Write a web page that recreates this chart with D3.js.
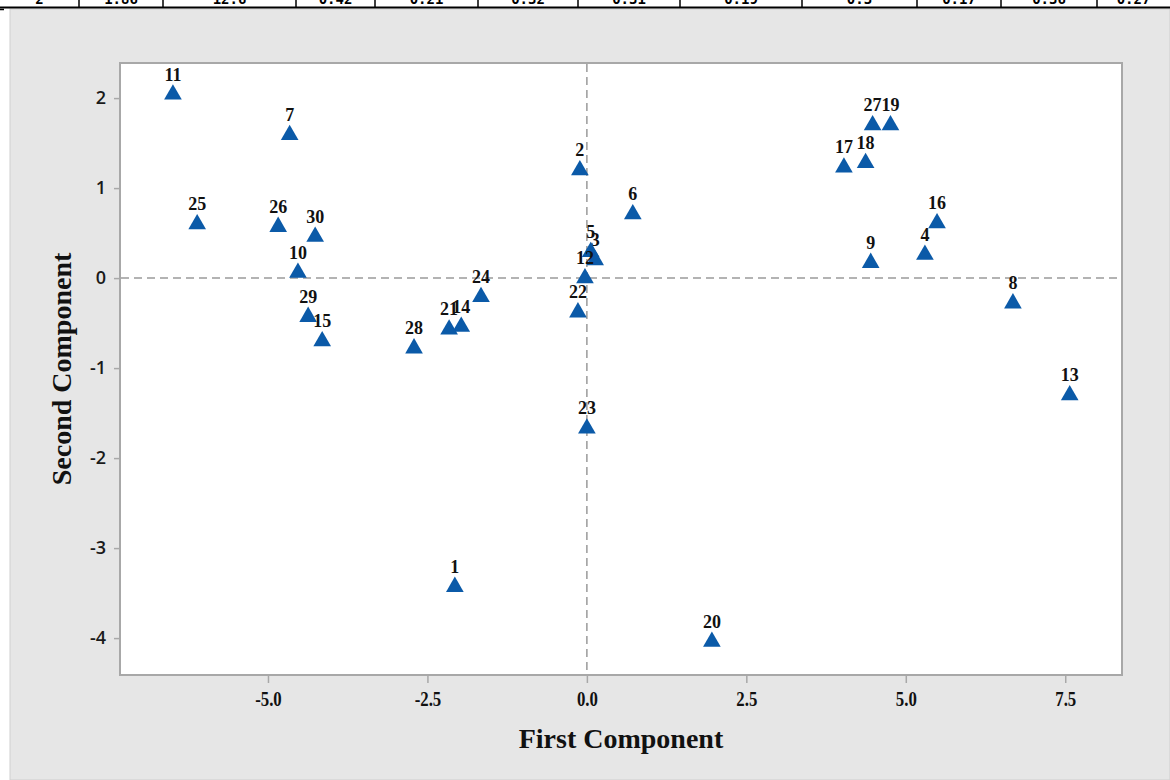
<!DOCTYPE html>
<html>
<head>
<meta charset="utf-8">
<script src="https://cdn.jsdelivr.net/npm/d3@7"></script>
<style>
	body { margin: 0; background: #ffffff; }
	svg { display: block; }
</style>
</head>
<body>
<script>
// 主成分得点 (第1主成分, 第2主成分) と番号
var ids = [1, 2, 3, 4, 5, 6, 7, 8, 9, 10, 11, 12, 13, 14, 15, 16, 17, 18, 19, 20, 21, 22, 23, 24, 25, 26, 27, 28, 29, 30];
var pc1 = [-2.07, -0.11, 0.13, 5.30, 0.06, 0.72, -4.66, 6.68, 4.45, -4.53, -6.49, -0.03, 7.57, -1.97, -4.15,
	5.49, 4.03, 4.37, 4.76, 1.96, -2.16, -0.14, 0.00, -1.66, -6.11, -4.84, 4.48, -2.71, -4.37, -4.26];
var pc2 = [-3.43, 1.20, 0.20, 0.26, 0.29, 0.71, 1.59, -0.28, 0.17, 0.06, 2.04, 0.00, -1.30, -0.54, -0.70,
	0.61, 1.23, 1.28, 1.70, -4.04, -0.57, -0.38, -1.67, -0.21, 0.60, 0.57, 1.70, -0.78, -0.43, 0.46];

// 目盛り
var x_ticks = [-5.0, -2.5, 0.0, 2.5, 5.0, 7.5];
var y_ticks = [-4, -3, -2, -1, 0, 1, 2];

// 上端に切れて残っている表の行
var table_cells = ["2", "1.86", "12.6", "0.42", "0.21", "0.32", "0.31", "0.19", "0.3", "0.17", "0.36", "0.27"];
var table_edges = [0, 79, 163, 296, 375, 478, 578, 680, 802, 917, 1001, 1097, 1170];

var width = 1170, height = 780;
var plot = { left: 120, right: 1122, top: 63, bottom: 675 };

var svg = d3.select("body").append("svg")
	.attr("width", width)
	.attr("height", height);

// 背景(グレーのパネル)
svg.append("rect")
	.attr("x", 10).attr("y", 9)
	.attr("width", width - 10).attr("height", height - 9)
	.attr("fill", "#e6e6e6")
	.attr("stroke", "#cfcfcf")
	.attr("stroke-width", 1);

// 表の行の名残
var tbl = svg.append("g").attr("class", "table_row");
tbl.append("rect")
	.attr("x", 0).attr("y", 0).attr("width", width).attr("height", 7)
	.attr("fill", "#ffffff");
table_edges.slice(1, -1).forEach(function(ex){
	tbl.append("line")
		.attr("x1", ex).attr("x2", ex).attr("y1", 0).attr("y2", 7)
		.attr("stroke", "#000").attr("stroke-width", 1.5);
});
table_cells.forEach(function(t, i){
	tbl.append("text")
		.attr("x", (table_edges[i] + table_edges[i + 1]) / 2)
		.attr("y", 4)
		.attr("text-anchor", "middle")
		.style("font-family", "'DejaVu Sans Mono', monospace")
		.style("font-size", "14px")
		.style("font-weight", "bold")
		.text(t);
});
tbl.append("line")
	.attr("x1", 0).attr("x2", width).attr("y1", 7.5).attr("y2", 7.5)
	.attr("stroke", "#000").attr("stroke-width", 2);
tbl.append("line")
	.attr("x1", 0).attr("x2", 4).attr("y1", 9.5).attr("y2", 9.5)
	.attr("stroke", "#000").attr("stroke-width", 1.5);

// スケール
var x = d3.scaleLinear().domain([-7.32, 8.39]).range([plot.left, plot.right]);
var y = d3.scaleLinear().domain([-4.41, 2.39]).range([plot.bottom, plot.top]);

// プロット領域
svg.append("rect")
	.attr("x", plot.left).attr("y", plot.top)
	.attr("width", plot.right - plot.left).attr("height", plot.bottom - plot.top)
	.attr("fill", "#ffffff")
	.attr("stroke", "#a8a8a8")
	.attr("stroke-width", 2);

// マイナスはハイフンで表示(元図に合わせる)
var fmt1 = function(d){ return d3.format(".1f")(d).replace("\u2212", "-"); };
var fmt0 = function(d){ return String(d); };

// 軸
var xAxis = svg.append("g")
	.attr("transform", "translate(0," + plot.bottom + ")")
	.call(d3.axisBottom(x).tickValues(x_ticks).tickFormat(fmt1).tickSize(8).tickPadding(8));
xAxis.select(".domain").remove();
xAxis.selectAll(".tick line").attr("stroke", "#a8a8a8").attr("stroke-width", 1.5);
xAxis.selectAll(".tick text")
	.attr("fill", "#111")
	.attr("transform", "scale(0.8,1)")
	.style("font-family", "'Liberation Serif', serif")
	.style("font-weight", "bold")
	.style("font-size", "21px");

var yAxis = svg.append("g")
	.attr("transform", "translate(" + plot.left + ",0)")
	.call(d3.axisLeft(y).tickValues(y_ticks).tickFormat(fmt0).tickSize(6).tickPadding(8));
yAxis.select(".domain").remove();
yAxis.selectAll(".tick line").attr("stroke", "#a8a8a8").attr("stroke-width", 1.5);
yAxis.selectAll(".tick text")
	.attr("fill", "#1a1a1a")
	.style("font-family", "'Open Sans', sans-serif")
	.style("font-weight", "600")
	.style("font-size", "18px");

// 原点の破線
svg.append("line")
	.attr("x1", x(0)).attr("x2", x(0))
	.attr("y1", plot.top + 1).attr("y2", plot.bottom - 1)
	.attr("stroke", "#9a9a9a").attr("stroke-width", 1.5)
	.attr("stroke-dasharray", "8,5");
svg.append("line")
	.attr("x1", plot.left + 1).attr("x2", plot.right - 1)
	.attr("y1", y(0)).attr("y2", y(0))
	.attr("stroke", "#9a9a9a").attr("stroke-width", 1.5)
	.attr("stroke-dasharray", "8,5");

// 点とラベル
var tri = d3.symbol().type(d3.symbolTriangle).size(135);
var node = svg.selectAll(".pt")
	.data(ids)
	.enter().append("g")
	.attr("class", "pt")
	.attr("transform", function(d, i){ return "translate(" + x(pc1[i]) + "," + y(pc2[i]) + ")"; });

node.append("path")
	.attr("d", tri)
	.attr("fill", "#0b5aa8");

node.append("text")
	.attr("y", -14)
	.attr("text-anchor", "middle")
	.attr("fill", "#111")
	.style("font-family", "'Liberation Serif', serif")
	.style("font-weight", "bold")
	.style("font-size", "18px")
	.text(function(d){ return d; });

// 軸タイトル
svg.append("text")
	.attr("x", 621).attr("y", 748)
	.attr("text-anchor", "middle")
	.attr("fill", "#111")
	.style("font-family", "'Liberation Serif', serif")
	.style("font-weight", "bold")
	.style("font-size", "28px")
	.text("First Component");

svg.append("text")
	.attr("transform", "translate(71,369) rotate(-90)")
	.attr("text-anchor", "middle")
	.attr("fill", "#111")
	.style("font-family", "'Liberation Serif', serif")
	.style("font-weight", "bold")
	.style("font-size", "28px")
	.text("Second Component");
</script>
</body>
</html>
